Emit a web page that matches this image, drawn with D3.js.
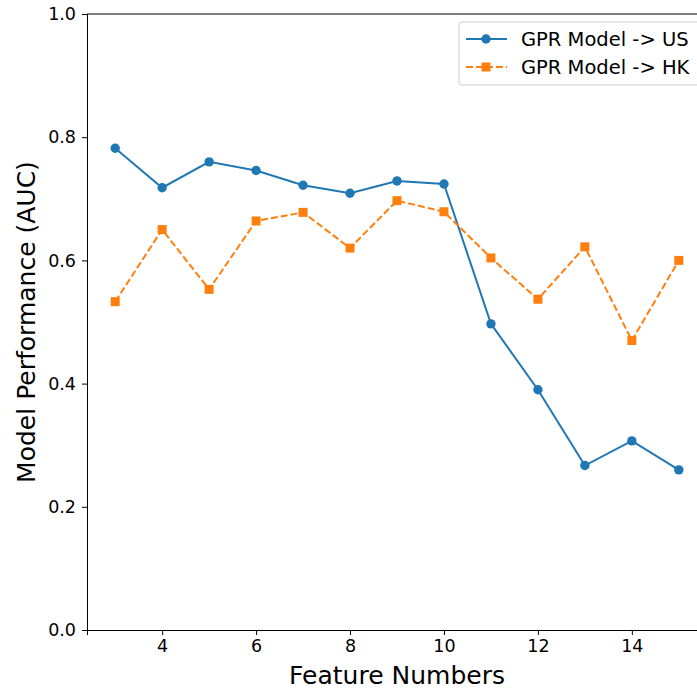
<!DOCTYPE html>
<html>
<head>
<meta charset="utf-8">
<script src="https://cdn.jsdelivr.net/npm/d3@7"></script>
<style>
  body { margin: 0; background: #fff; }
  text { font-family: "DejaVu Sans", sans-serif; fill: #000; }
</style>
</head>
<body>
<div id="chart"></div>
<script>
// data
var features = [3, 4, 5, 6, 7, 8, 9, 10, 11, 12, 13, 14, 15];
var usAuc = [0.782, 0.718, 0.760, 0.746, 0.722, 0.709, 0.729, 0.724, 0.497, 0.390, 0.267, 0.307, 0.260];
var hkAuc = [0.533, 0.650, 0.553, 0.664, 0.678, 0.620, 0.697, 0.679, 0.604, 0.537, 0.622, 0.470, 0.600];
var xTicks = [4, 6, 8, 10, 12, 14];
var yTicks = [0.0, 0.2, 0.4, 0.6, 0.8, 1.0];

var series = [
  { name: 'GPR Model -> US', values: usAuc, color: '#1f77b4', dash: null, marker: 'circle' },
  { name: 'GPR Model -> HK', values: hkAuc, color: '#ff7f0e', dash: '7,3', marker: 'square' }
];

var width = 697,
    height = 690,
    margin = { top: 14, left: 87, bottom: 60, right: -10 };

var innerW = width - margin.left - margin.right,
    innerH = height - margin.top - margin.bottom;

var x = d3.scaleLinear().domain([2.4, 15.6]).range([0, innerW]);
var y = d3.scaleLinear().domain([0, 1]).range([innerH, 0]);

var svg = d3.select('#chart').append('svg')
    .attr('width', width)
    .attr('height', height);

var g = svg.append('g')
    .attr('transform', 'translate(' + margin.left + ',' + margin.top + ')');

// axes
var xAxis = g.append('g')
    .attr('transform', 'translate(0,' + innerH + ')')
    .call(d3.axisBottom(x).tickValues(xTicks).tickSizeOuter(0).tickSize(5).tickPadding(5));
var yAxis = g.append('g')
    .call(d3.axisLeft(y).tickValues(yTicks).tickFormat(d3.format('.1f')).tickSizeOuter(0).tickSize(5).tickPadding(6));

[xAxis, yAxis].forEach(function(a){
  a.selectAll('text').style('font-size', '17.5px').attr('font-family', null);
  a.selectAll('line').attr('stroke', '#000');
  a.select('.domain').attr('stroke', '#000');
});

// top spine
g.append('line')
    .attr('x1', 0).attr('x2', innerW)
    .attr('y1', 0).attr('y2', 0)
    .attr('stroke', '#000');

// axis labels
svg.append('text')
    .attr('x', margin.left + x(9))
    .attr('y', 684)
    .attr('text-anchor', 'middle')
    .style('font-size', '25px')
    .text('Feature Numbers');

svg.append('text')
    .attr('transform', 'translate(35,' + (margin.top + y(0.5)) + ') rotate(-90)')
    .attr('text-anchor', 'middle')
    .style('font-size', '25px')
    .text('Model Performance (AUC)');

var line = d3.line()
    .x(function(d, i){ return x(features[i]); })
    .y(function(d){ return y(d); });

function drawMarker(sel, s){
  if (s.marker === 'circle') {
    sel.append('circle').attr('r', 4.7).attr('fill', s.color);
  } else {
    sel.append('rect').attr('x', -4.5).attr('y', -4.5)
      .attr('width', 9).attr('height', 9).attr('fill', s.color);
  }
}

series.forEach(function(s){
  g.append('path')
      .datum(s.values)
      .attr('fill', 'none')
      .attr('stroke', s.color)
      .attr('stroke-width', 2)
      .attr('stroke-dasharray', s.dash)
      .attr('d', line);

  g.selectAll('.mark-' + s.marker)
      .data(s.values)
    .enter().append('g')
      .attr('class', 'mark-' + s.marker)
      .attr('transform', function(d, i){
        return 'translate(' + x(features[i]) + ',' + y(d) + ')';
      })
      .each(function(){ drawMarker(d3.select(this), s); });
});

// legend
var legend = svg.append('g').attr('transform', 'translate(459,22)');
legend.append('rect')
    .attr('width', 245).attr('height', 63)
    .attr('rx', 3)
    .attr('fill', '#fff').attr('fill-opacity', 0.8)
    .attr('stroke', '#ccc');

series.forEach(function(s, i){
  var row = legend.append('g').attr('transform', 'translate(0,' + (17 + i * 28) + ')');
  row.append('line')
      .attr('x1', 7).attr('x2', 48)
      .attr('stroke', s.color).attr('stroke-width', 2)
      .attr('stroke-dasharray', s.dash);
  var m = row.append('g').attr('transform', 'translate(27,0)');
  drawMarker(m, s);
  row.append('text')
      .attr('x', 62).attr('dy', '0.35em')
      .style('font-size', '19.5px')
      .text(s.name);
});
</script>
</body>
</html>
